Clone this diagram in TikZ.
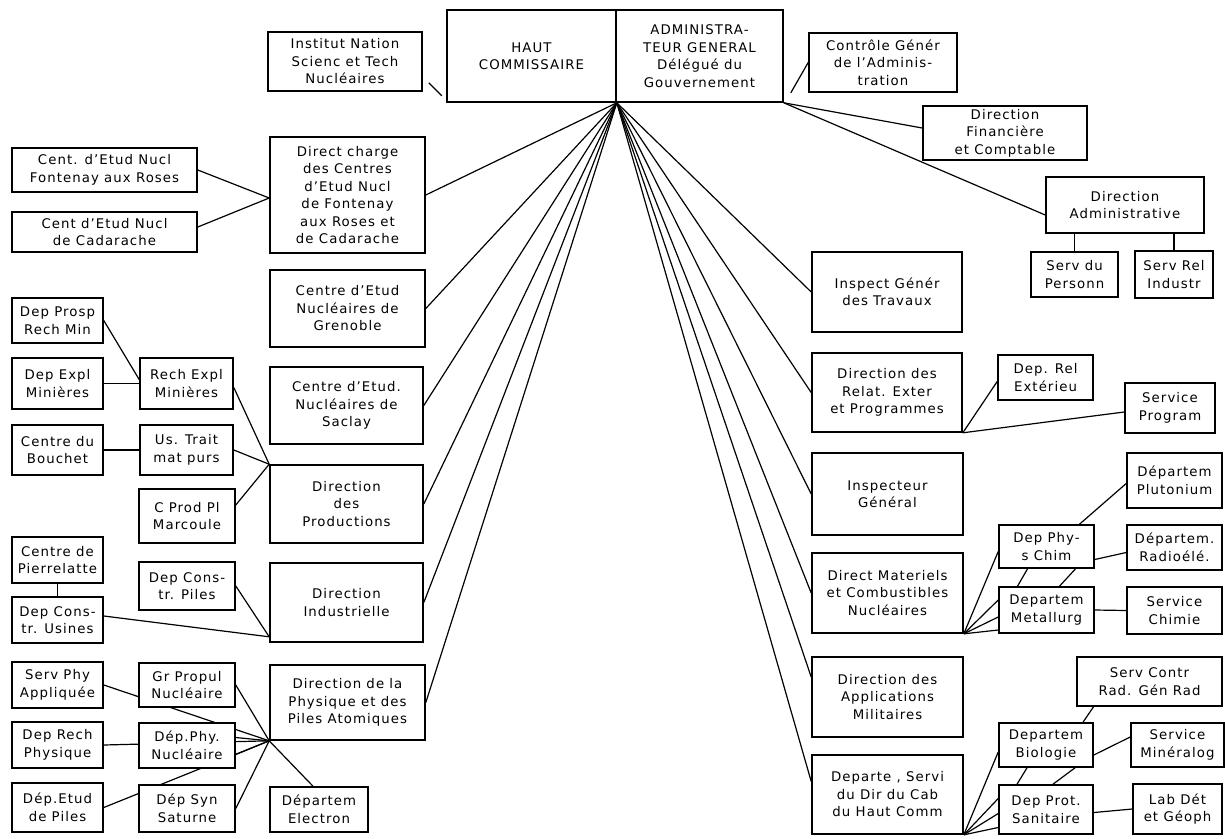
\documentclass[tikz,border=0pt]{standalone}
\usepackage{fontspec}
\setmainfont{DejaVu Sans}[LetterSpace=8]
\usetikzlibrary{backgrounds,calc}
\newcommand\bx[6]{\node[box,minimum width={#4-#2},minimum height={#5-#3}] (#1) at ({(#2+#4)/2},{(#3+#5)/2}) {#6};}
\begin{document}
\begin{tikzpicture}[x=1pt,y=-1pt,
  box/.style={draw,line width=1.6pt,fill=white,inner sep=0pt,align=center,font=\fontsize{13.3}{17.5}\selectfont},
  link/.style={line width=1.2pt}]
\useasboundingbox (0,0) rectangle (1225,838);
% top
\bx{hc}{447}{10}{616}{102}{HAUT\\COMMISSAIRE}
\bx{ag}{616}{10}{783}{102}{ADMINISTRA-\\TEUR GENERAL\\Délégué du\\Gouvernement}
\bx{inst}{268}{32}{422}{91}{Institut Nation\\Scienc et Tech\\Nucléaires}
\bx{ctrl}{809}{33}{957}{92}{Contrôle Génér\\de l'Adminis-\\tration}
\bx{fin}{923}{106}{1087}{160}{Direction\\Financière\\et Comptable}
\bx{adm}{1046}{177}{1204}{233}{Direction\\Administrative}
\bx{pers}{1031}{252}{1118}{297}{Serv du\\Personn}
\bx{rind}{1135}{251}{1213}{298}{Serv Rel\\Industr}
% left
\bx{dcc}{270}{137}{425}{253}{Direct charge\\des Centres\\d'Etud Nucl\\de Fontenay\\aux Roses et\\de Cadarache}
\bx{fon}{12}{148}{197}{192}{Cent. d'Etud Nucl\\Fontenay aux Roses}
\bx{cad}{12}{212}{197}{252}{Cent d'Etud Nucl\\de Cadarache}
\bx{gre}{270}{270}{425}{347}{Centre d'Etud\\Nucléaires de\\Grenoble}
\bx{sac}{270}{367}{423}{444}{Centre d'Etud.\\Nucléaires de\\Saclay}
\bx{prosp}{12}{298}{103}{343}{Dep Prosp\\Rech Min}
\bx{expl}{12}{358}{103}{409}{Dep Expl\\Minières}
\bx{rech}{140}{358}{233}{409}{Rech Expl\\Minières}
\bx{bou}{12}{425}{103}{475}{Centre du\\Bouchet}
\bx{usth}{140}{425}{233}{475}{Us. Trait\\mat purs}
\bx{mar}{139}{489}{235}{543}{C Prod Pl\\Marcoule}
\bx{prod}{270}{465}{423}{543}{Direction\\des\\Productions}
\bx{pier}{12}{537}{103}{583}{Centre de\\Pierrelatte}
\bx{cusi}{12}{597}{103}{643}{Dep Cons-\\tr. Usines}
\bx{cpil}{139}{562}{235}{610}{Dep Cons-\\tr. Piles}
\bx{ind}{270}{563}{423}{642}{Direction\\Industrielle}
\bx{phys}{270}{665}{425}{740}{Direction de la\\Physique et des\\Piles Atomiques}
\bx{sphy}{12}{662}{103}{708}{Serv Phy\\Appliquée}
\bx{gprop}{139}{663}{235}{707}{Gr Propul\\Nucléaire}
\bx{rphy}{12}{722}{103}{768}{Dep Rech\\Physique}
\bx{dpn}{139}{723}{235}{768}{Dép.Phy.\\Nucléaire}
\bx{etud}{12}{783}{103}{832}{Dép.Etud\\de Piles}
\bx{syn}{139}{785}{235}{832}{Dép Syn\\Saturne}
\bx{elec}{270}{787}{368}{832}{Départem\\Electron}
% right
\bx{trav}{812}{252}{962}{332}{Inspect Génér\\des Travaux}
\bx{relat}{812}{353}{962}{432}{Direction des\\Relat. Exter\\et Programmes}
\bx{drel}{998}{355}{1093}{400}{Dep. Rel\\Extérieu}
\bx{sprog}{1125}{383}{1215}{433}{Service\\Program}
\bx{insp}{812}{453}{963}{535}{Inspecteur\\Général}
\bx{mat}{812}{553}{963}{633}{Direct Materiels\\et Combustibles\\Nucléaires}
\bx{pch}{999}{525}{1094}{568}{Dep Phy-\\s Chim}
\bx{met}{999}{587}{1094}{633}{Departem\\Metallurg}
\bx{plu}{1127}{453}{1222}{508}{Départem\\Plutonium}
\bx{rad}{1127}{525}{1222}{570}{Départem.\\Radioélé.}
\bx{chim}{1127}{587}{1222}{634}{Service\\Chimie}
\bx{apps}{812}{657}{963}{737}{Direction des\\Applications\\Militaires}
\bx{cab}{812}{755}{963}{834}{Departe , Servi\\du Dir du Cab\\du Haut Comm}
\bx{scr}{1077}{657}{1222}{706}{Serv Contr\\Rad. Gén Rad}
\bx{bio}{999}{723}{1093}{767}{Departem\\Biologie}
\bx{miner}{1131}{723}{1224}{767}{Service\\Minéralog}
\bx{prot}{999}{785}{1093}{834}{Dep Prot.\\Sanitaire}
\bx{lab}{1133}{784}{1222}{834}{Lab Dét\\et Géoph}
\begin{pgfonlayer}{background}
\coordinate (H) at (hc.south east);
\foreach \n in {dcc,gre,sac,prod,ind,phys} \draw[link] (H) -- (\n.east);
\foreach \n in {trav,relat,insp,mat} \draw[link] (H) -- (\n.west);
\draw[link] (H) -- ([yshift=20pt]apps.west);
\draw[link] (H) -- ([yshift=13pt]cab.west);
% top right
\draw[link] (ag.south east) -- ([yshift=5pt]fin.west);
\draw[link] (ag.south east) -- ([yshift=-10pt]adm.west);
\draw[link] ([xshift=7pt,yshift=10pt]ag.south east) -- (ctrl.west);
\draw[link] ([xshift=6pt,yshift=9pt]inst.south east) -- ([xshift=19pt,yshift=-4pt]inst.south east);
\draw[link] (pers.north |- adm.south) -- (pers.north);
\draw[link] (rind.north |- adm.south) -- (rind.north);
% relations
\draw[link] (relat.south east) -- ([yshift=-4pt]drel.west);
\draw[link] (relat.south east) -- ([yshift=-4pt]sprog.west);
% materials
\draw[link] ([xshift=33pt]pch.north) -- ([yshift=-3pt]plu.west);
\draw[link] ([yshift=-13pt]pch.east) -- ([yshift=-5pt]rad.west);
\draw[link] ([xshift=-19pt]pch.south) -- ([xshift=-29pt]met.north);
\draw[link] ([xshift=29pt]pch.south) -- ([xshift=13pt]met.north);
\draw[link] (met.east) -- (chim.west);
\draw[link] (mat.south east) -- ([yshift=-5pt]pch.west);
\foreach \s in {10,-7,-20} \draw[link] (mat.south east) -- ([yshift=\s pt]met.west);
% cabinet
\draw[link] (cab.south east) -- ([yshift=-7pt]bio.west);
\foreach \s in {11,-4,-18} \draw[link] (cab.south east) -- ([yshift=\s pt]prot.west);
\draw[link] ([xshift=37pt]bio.north) -- ([xshift=-56pt]scr.south);
\draw[link] ([yshift=-10pt]bio.east) -- ([yshift=8pt]miner.west);
\draw[link] ([xshift=-19pt]bio.south) -- ([xshift=-29pt]prot.north);
\draw[link] ([xshift=29pt]bio.south) -- ([xshift=7pt]prot.north);
\draw[link] ([yshift=-3pt]prot.east) -- (lab.west);
% left groups
\draw[link] (fon.east) -- ([yshift=-3pt]dcc.west);
\draw[link] ([yshift=5pt]cad.east) -- ([yshift=-3pt]dcc.west);
\draw[link] (prosp.east) -- ([yshift=4pt]rech.west);
\draw[link] (expl.east) -- (rech.west);
\draw[link] ([yshift=-4pt]rech.east) -- (prod.north west);
\draw[link] (bou.east) -- (usth.west);
\draw[link] (usth.east) -- (prod.north west);
\draw[link] ([yshift=11pt]mar.east) -- (prod.north west);
\draw[link] (pier.south) -- (cusi.north);
\draw[link] ([yshift=4pt]cusi.east) -- ([yshift=6pt]ind.south west);
\draw[link] (cpil.east) -- ([yshift=6pt]ind.south west);
\coordinate (P) at (phys.south west);
\foreach \n in {sphy,rphy,etud,gprop,syn} \draw[link] (\n.east) -- (P);
\draw[link] ([yshift=8pt]dpn.east) -- (P);
\draw[link] ([yshift=-9pt]dpn.east) -- (P);
\draw[link] (P) -- ([xshift=-6pt]elec.north);
\end{pgfonlayer}
\end{tikzpicture}
\end{document}
